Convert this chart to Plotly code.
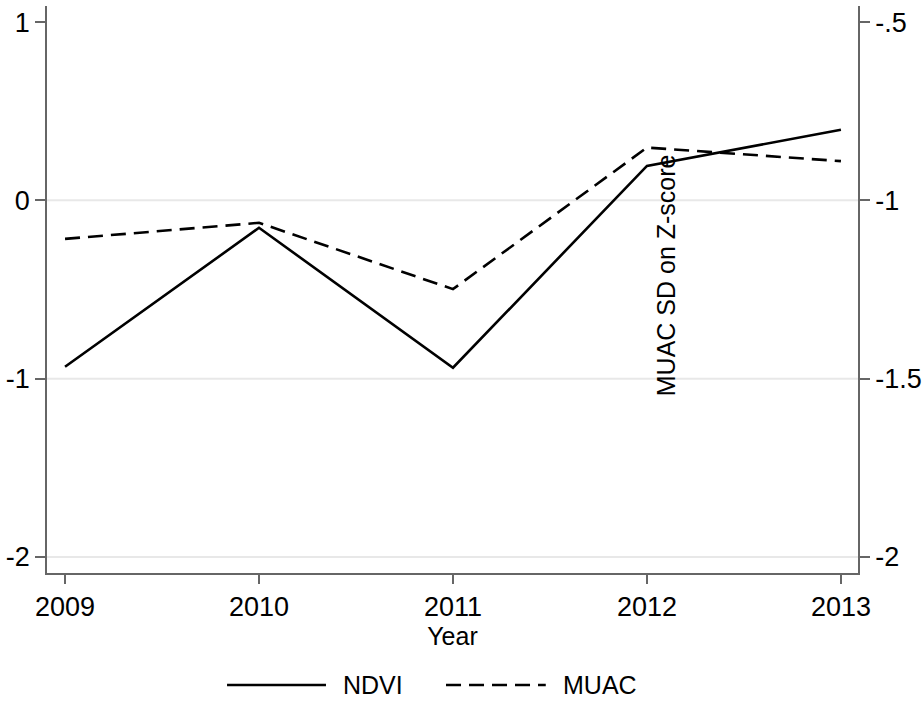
import plotly.graph_objects as go

years = [2009, 2010, 2011, 2012, 2013]
ndvi = [-0.933, -0.154, -0.939, 0.193, 0.396]
muac = [-1.108, -1.063, -1.249, -0.852, -0.890]

left_ticks = [-2, -1, 0, 1]
left_labels = ["-2", "-1", "0", "1"]
right_ticks = [-2, -1.5, -1, -0.5]
right_labels = ["-2", "-1.5", "-1", "-.5"]
grid_levels = [-2, -1, 0]
series_names = ["NDVI", "MUAC"]

FONT = "Liberation Sans, Arial, sans-serif"
AX = "#666666"
FS = 25
TFS = 27
LW = 2.6
DASH = "15px,8px"

fig = go.Figure()
fig.add_trace(go.Scatter(x=years, y=ndvi, name=series_names[0], mode="lines",
                         line=dict(color="black", width=LW, dash="solid"), yaxis="y"))
fig.add_trace(go.Scatter(x=years, y=muac, name=series_names[1], mode="lines",
                         line=dict(color="black", width=LW, dash=DASH), yaxis="y2"))

for g in grid_levels:
    fig.add_shape(type="line", xref="paper", yref="y", x0=0, x1=1, y0=g, y1=g,
                  line=dict(color="#e8e8e8", width=2), layer="below")

fig.add_annotation(text="MUAC SD on Z-score", xref="x", yref="y", x=2012.098, y=-0.42,
                   textangle=-90, showarrow=False, font=dict(size=FS, color="black", family=FONT))

# custom legend (long line keys)
LEG_Y = -0.1975
fig.add_shape(type="line", xref="paper", yref="paper", x0=0.222, x1=0.344, y0=LEG_Y, y1=LEG_Y,
              line=dict(color="black", width=LW, dash="solid"))
fig.add_shape(type="line", xref="paper", yref="paper", x0=0.492, x1=0.615, y0=LEG_Y, y1=LEG_Y,
              line=dict(color="black", width=LW, dash=DASH))
fig.add_annotation(text=series_names[0], xref="paper", yref="paper", x=0.363, y=LEG_Y,
                   xanchor="left", yanchor="middle", showarrow=False,
                   font=dict(size=FS, color="black", family=FONT))
fig.add_annotation(text=series_names[1], xref="paper", yref="paper", x=0.634, y=LEG_Y,
                   xanchor="left", yanchor="middle", showarrow=False,
                   font=dict(size=FS, color="black", family=FONT))

axis_common = dict(showgrid=False, zeroline=False, showline=True, linecolor=AX, linewidth=1.5,
                   ticks="outside", tickcolor=AX, tickwidth=1.5, automargin=False,
                   tickfont=dict(size=TFS, color="black", family=FONT))

fig.update_layout(
    width=922, height=702,
    margin=dict(l=47, r=64, t=6, b=129),
    paper_bgcolor="white", plot_bgcolor="white",
    font=dict(family=FONT, size=FS, color="black"),
    showlegend=False,
    xaxis=dict(range=[2008.907, 2013.088], tickvals=years, ticktext=[str(y) for y in years],
               ticklen=9, title=dict(text="Year", standoff=0, font=dict(size=FS)), **axis_common),
    yaxis=dict(range=[-2.09, 1.09], tickvals=left_ticks, ticktext=left_labels, ticklen=10,
               **axis_common),
    yaxis2=dict(range=[-2.045, -0.455], tickvals=right_ticks, ticktext=right_labels, ticklen=10,
                overlaying="y", side="right", **axis_common),
)

fig.write_html("out.html", config={"displayModeBar": False},
               post_script="document.body.style.margin='0';document.body.style.overflow='hidden';")
